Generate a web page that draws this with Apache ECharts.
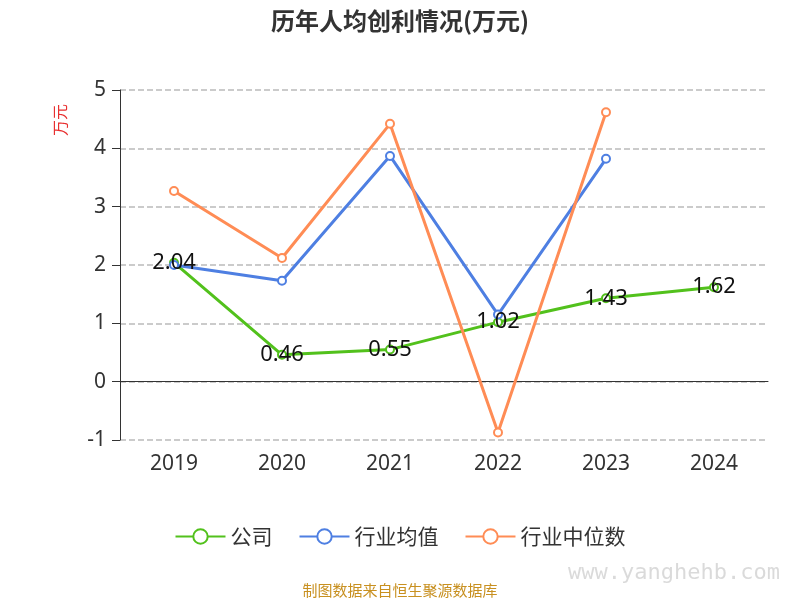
<!DOCTYPE html>
<html><head><meta charset="utf-8">
<script src="https://cdn.jsdelivr.net/npm/echarts@6/dist/echarts.min.js"></script>
<style>html,body{margin:0;padding:0;background:#fff}#main{width:800px;height:600px}</style>
</head><body><div id="main"></div>
<script>
var years = ['2019', '2020', '2021', '2022', '2023', '2024'];
var company = [2.04, 0.46, 0.55, 1.02, 1.43, 1.62];
var industryAvg = [2.0, 1.73, 3.87, 1.15, 3.82, null];
var industryMedian = [3.27, 2.12, 4.42, -0.87, 4.62, null];

var myChart = echarts.init(document.getElementById('main'));
var option = {
    textStyle: { fontFamily: 'Noto Sans, Noto Sans CJK SC' },
    title: {
        text: '历年人均创利情况(万元)',
        left: 'center', top: 4,
        textStyle: { fontSize: 24, fontWeight: 'bold', color: '#333', fontFamily: 'Noto Sans CJK SC' }
    },
    grid: { left: 120, right: 32, top: 90, bottom: 160 },
    legend: {
        bottom: 48, itemWidth: 50, itemHeight: 18, itemGap: 26,
        textStyle: { fontSize: 21, color: '#333', fontFamily: 'Noto Sans CJK SC' },
        data: ['公司', '行业均值', '行业中位数']
    },
    xAxis: {
        type: 'category', data: years,
        axisLine: { lineStyle: { color: '#333' } },
        axisTick: { length: 8, lineStyle: { color: '#333' } },
        axisLabel: { fontSize: 21, color: '#333', margin: 14 }
    },
    yAxis: {
        type: 'value', min: -1, max: 5, interval: 1,
        axisLine: { show: true, lineStyle: { color: '#333' } },
        axisTick: { show: true, length: 8, lineStyle: { color: '#333' } },
        axisLabel: { fontSize: 21, color: '#333', margin: 14 },
        splitLine: { lineStyle: { type: 'dashed', color: '#bbb', width: 1.5 } }
    },
    series: [
        {
            name: '公司', type: 'line', data: company,
            symbol: 'emptyCircle', symbolSize: 8, z: 3,
            itemStyle: { color: '#52c11c' }, lineStyle: { width: 3 },
            label: { show: true, position: 'inside', fontSize: 22, color: '#111' }
        },
        {
            name: '行业均值', type: 'line', data: industryAvg,
            symbol: 'emptyCircle', symbolSize: 8,
            itemStyle: { color: '#4e7fe2' }, lineStyle: { width: 3 }
        },
        {
            name: '行业中位数', type: 'line', data: industryMedian,
            symbol: 'emptyCircle', symbolSize: 8,
            itemStyle: { color: '#ff8c55' }, lineStyle: { width: 3 }
        }
    ],
    graphic: [
        { type: 'text', left: 52, top: 104, rotation: Math.PI / 2, style: { text: '万元', fill: '#e83030', fontSize: 16, fontFamily: 'Noto Sans CJK SC' } },
        { type: 'text', left: 'center', bottom: 2, style: { text: '制图数据来自恒生聚源数据库', fill: '#c89020', fontSize: 15, fontFamily: 'Noto Sans CJK SC' } },
        { type: 'text', right: 20, bottom: 16, style: { text: 'www.yanghehb.com', fill: 'rgba(150,150,150,0.35)', fontSize: 22, fontFamily: 'DejaVu Sans Mono' } }
    ]
};
myChart.setOption(option);
</script></body></html>
